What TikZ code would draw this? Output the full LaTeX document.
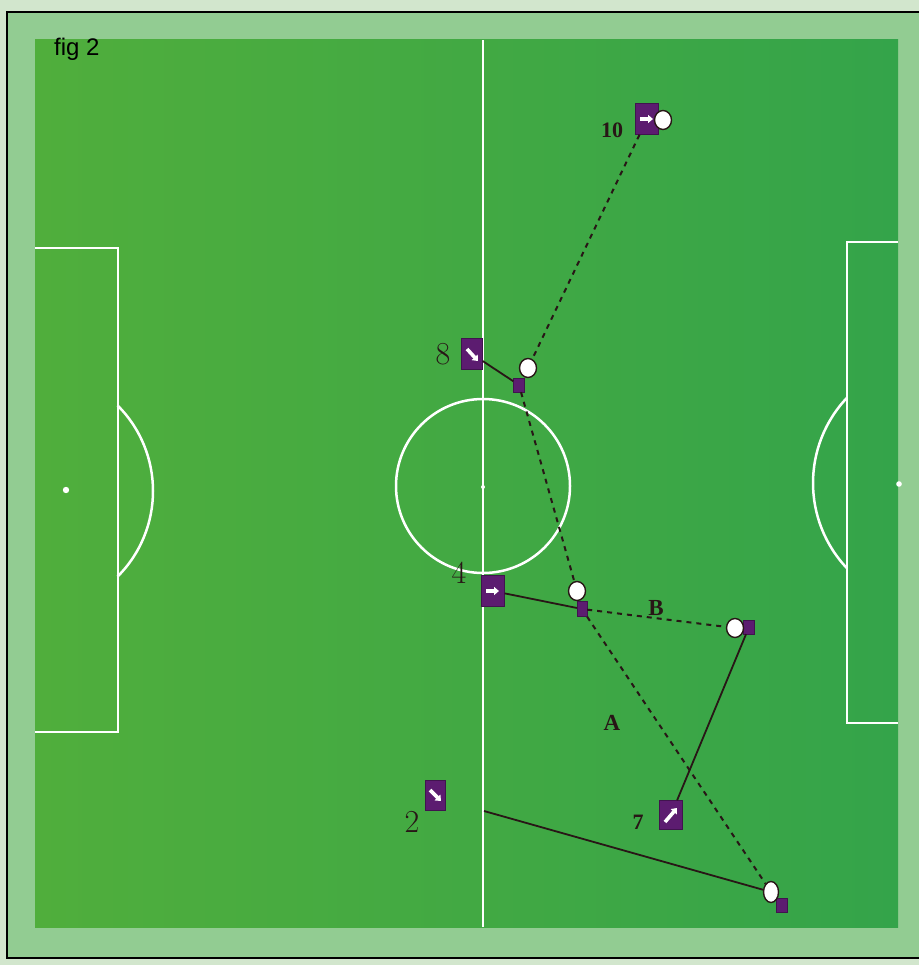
\documentclass[tikz,border=0pt]{standalone}
\usepackage{fontspec}
\newfontfamily\serifb{Liberation Serif}
\newfontfamily\sansf{Liberation Sans}
\usetikzlibrary{shapes.geometric,arrows.meta,calc}
\definecolor{outerg}{RGB}{146,204,146}
\definecolor{paleg}{RGB}{210,230,205}
\definecolor{fieldL}{RGB}{80,174,60}
\definecolor{fieldR}{RGB}{52,164,74}
\definecolor{purp}{RGB}{92,28,112}
\definecolor{ink}{RGB}{40,22,22}
\tikzset{
  player/.style={rectangle, fill=purp, draw=purp!70!black, minimum width=22, minimum height=30, inner sep=0},
  tag/.style={rectangle, fill=purp, draw=purp!70!black, minimum width=11, minimum height=14, inner sep=0},
  ball/.style={ellipse, fill=white, draw=ink, line width=1.4, minimum width=17, minimum height=19, inner sep=0},
  pass/.style={ink, line width=2, dash pattern=on 5pt off 5pt},
  run/.style={ink, line width=1.8},
  parrow/.style={white, line width=3.6, -{Triangle[length=5pt,width=8pt]}},
  chalk/.style={white, line width=2.5},
  numb/.style={font=\serifb\bfseries\fontsize{22}{22}\selectfont, text=ink, inner sep=0},
  letter/.style={font=\serifb\bfseries\fontsize{23}{23}\selectfont, text=ink, inner sep=0},
  hand/.style={font=\fontsize{32}{32}\selectfont, text=ink, inner sep=0}
}
\begin{document}
\begin{tikzpicture}[x=1pt,y=-1pt]
\useasboundingbox (0,0) rectangle (919,965);
% background and frame
\fill[paleg] (0,0) rectangle (919,965);
\fill[outerg] (7,12) rectangle (919,958);
\draw[black, line width=1.8] (919,12) -- (7,12) -- (7,958) -- (919,958);
% field
\shade[left color=fieldL, right color=fieldR] (35,40) rectangle (898,927);
% markings
\draw[chalk] (483,40) -- (483,927);
\draw[chalk] (483,486) circle[radius=87];
\fill[white] (483,487) circle[radius=2];
\draw[chalk] (35,248) -- (118,248) -- (118,732) -- (35,732);
\draw[chalk] (32,491) ++(-45:121) arc[start angle=-45, end angle=45, radius=121];
\fill[white] (66,490) circle[radius=3.2];
\draw[chalk] (898,242) -- (847,242) -- (847,723) -- (898,723);
\draw[chalk] (937,483) ++(136.5:124) arc[start angle=136.5, end angle=223.5, radius=124];
\fill[white] (899,484) circle[radius=2.8];
% title
\node[font=\sansf\fontsize{24}{24}\selectfont, anchor=west, inner sep=0] (title) at (54,49) {fig 2};
% players
\node[player, minimum width=23, minimum height=31] (p10) at (647,119) {};
\node[player, minimum width=21, minimum height=31] (p8) at (472,354) {};
\node[player, minimum width=23, minimum height=31] (p4) at (493,591) {};
\node[player, minimum width=23, minimum height=29] (p7) at (671,815) {};
\node[player, minimum width=20, minimum height=30] (p2) at (435,795) {};
% player arrows
\draw[parrow] ($(p10)+(-7,0)$) -- ($(p10)+(6,0)$);
\draw[parrow] ($(p8)+(-5,-5)$) -- ($(p8)+(6,7)$);
\draw[parrow] ($(p4)+(-7,0)$) -- ($(p4)+(6,0)$);
\draw[parrow] ($(p7)+(-6,7)$) -- ($(p7)+(6,-7)$);
\draw[parrow] ($(p2)+(-5,-5)$) -- ($(p2)+(6,6)$);
% markers and balls
\node[tag] (m8) at (519,385) {};
\node[ball] (b8) at (528,368) {};
\node[tag, minimum width=10, minimum height=15] (m4) at (582,609) {};
\node[ball] (b4) at (577,591) {};
\node[tag] (mB) at (749,627) {};
\node[ball] (bB) at (735,628) {};
\node[tag] (mE) at (782,905) {};
\node[ball, minimum width=15, minimum height=21] (bE) at (771,892) {};
\node[ball] (b10) at (663,120) {};
\coordinate (c2) at (484,811);
% labels
\node[numb] (l10) at (612,130) {10};
\node[numb] (l7) at (638,822) {7};
\node[hand] (l8) at (443,354) {8};
\node[hand] (l4) at (459,573) {4};
\node[hand] (l2) at (412,822) {2};
\node[letter] (lB) at (656,608) {B};
\node[letter] (lA) at (612,723) {A};
% connectors
\draw[pass] (p10) -- (b8);
\draw[run] (p8) -- (m8);
\draw[pass] (m8) -- (b4);
\draw[run] (p4) -- (m4);
\draw[pass] (m4) -- (bB);
\draw[run] (mB) -- (p7);
\draw[pass] (m4) -- (bE);
\draw[run] (c2) -- (bE);
\end{tikzpicture}
\end{document}
